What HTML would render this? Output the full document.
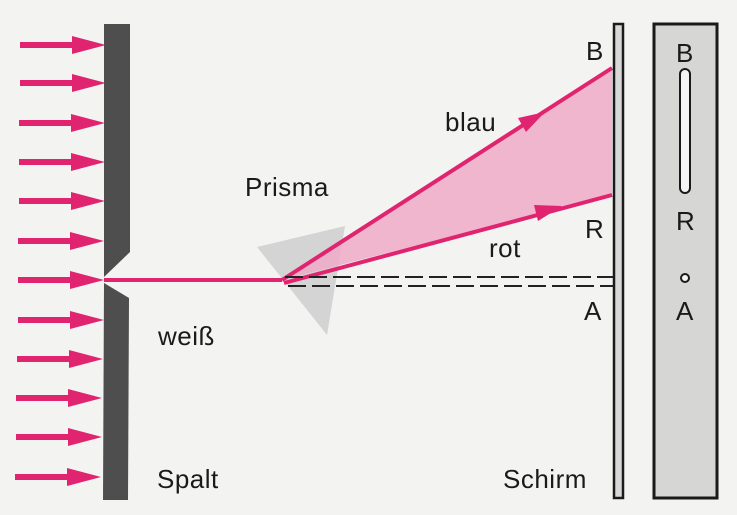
<!DOCTYPE html>
<html><head><meta charset="utf-8"><style>
html,body{margin:0;padding:0;background:#f3f3f1;}
svg{display:block}
text{font-family:"Liberation Sans",sans-serif;fill:#1a1a1a;font-size:26px;letter-spacing:0.5px}
</style></head><body>
<svg width="737" height="515" viewBox="0 0 737 515" xmlns="http://www.w3.org/2000/svg">
<rect width="737" height="515" fill="#f3f3f1"/>
<defs>
<g id="ar"><rect x="0" y="-3" width="56" height="6" fill="#e0246f"/><polygon points="52,-9 86,0 52,9" fill="#e0246f"/></g>
</defs>
<use href="#ar" x="20" y="45"/>
<use href="#ar" x="20" y="83"/>
<use href="#ar" x="19" y="123"/>
<use href="#ar" x="19" y="162"/>
<use href="#ar" x="19" y="201"/>
<use href="#ar" x="18" y="241"/>
<use href="#ar" x="18" y="280"/>
<use href="#ar" x="18" y="320"/>
<use href="#ar" x="17" y="359"/>
<use href="#ar" x="16" y="398"/>
<use href="#ar" x="16" y="437"/>
<use href="#ar" x="15" y="477"/>
<!-- slit -->
<polygon points="104,24 130,24 130,252 104,277 104,24" fill="#4e4e4e"/>
<polygon points="104,283 129,298 128,500 103,500" fill="#4e4e4e"/>
<!-- prism -->
<polygon points="257,247 345,226 327,335" fill="#c9c9c9" opacity="0.75"/>
<!-- pink fan -->
<polygon points="282,280 612,68 612,195" fill="#eeaac8" opacity="0.85"/>
<line x1="104" y1="280" x2="282" y2="280" stroke="#e0246f" stroke-width="4"/>
<line x1="282" y1="280" x2="612" y2="68" stroke="#e0246f" stroke-width="4"/>
<line x1="284" y1="283" x2="612" y2="195" stroke="#e0246f" stroke-width="4"/>
<polygon points="545,112 518,118 526,132" fill="#e0246f"/>
<polygon points="562,206 534,205 538,221" fill="#e0246f"/>
<!-- dashed -->
<line x1="285" y1="277" x2="613" y2="277" stroke="#222" stroke-width="2" stroke-dasharray="18,6"/>
<line x1="288" y1="286" x2="613" y2="286" stroke="#222" stroke-width="2" stroke-dasharray="18,6"/>
<!-- screen -->
<rect x="614" y="24" width="9" height="474" fill="#d8d8d8" stroke="#1a1a1a" stroke-width="2.5"/>
<!-- right panel -->
<rect x="654" y="24" width="63" height="474" fill="#d6d6d4" stroke="#1a1a1a" stroke-width="3"/>
<rect x="680" y="69" width="10" height="124" rx="5" fill="#f5f5f5" stroke="#1a1a1a" stroke-width="2"/>
<circle cx="685" cy="278" r="4" fill="#f5f5f5" stroke="#1a1a1a" stroke-width="2"/>
<!-- labels -->
<text x="586" y="60">B</text>
<text x="585" y="238">R</text>
<text x="584" y="320">A</text>
<text x="676" y="62">B</text>
<text x="676" y="230">R</text>
<text x="676" y="320">A</text>
<text x="445" y="131">blau</text>
<text x="489" y="257">rot</text>
<text x="245" y="196">Prisma</text>
<text x="158" y="345">weiß</text>
<text x="157" y="488">Spalt</text>
<text x="503" y="488">Schirm</text>
</svg>
</body></html>
